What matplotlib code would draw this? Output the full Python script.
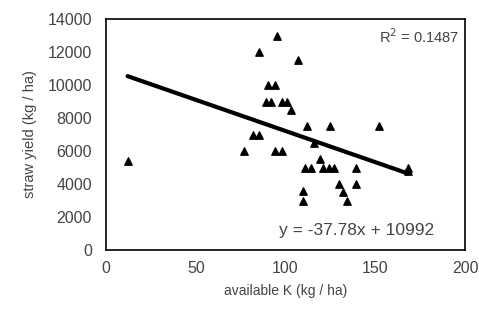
import numpy as np
import matplotlib
import matplotlib.pyplot as plt
matplotlib.use('Agg')

# available K (kg/ha) and straw yield (kg/ha)
avail_k = [12, 77, 82, 85, 85, 90, 94, 89, 92, 95, 94, 98, 98, 101, 103, 107,
           112, 125, 152, 116, 119, 111, 114, 121, 124, 127, 139, 139, 110, 110,
           130, 132, 134, 168, 168]
straw_yield = [5400, 6000, 7000, 7000, 12000, 10000, 10000, 9000, 9000, 13000,
               6000, 6000, 9000, 9000, 8500, 11500, 7500, 7500, 7500, 6500, 5500,
               5000, 5000, 5000, 5000, 5000, 5000, 4000, 3600, 3000, 4000, 3500,
               3000, 4800, 5000]

slope = -37.78
intercept = 10992
r_squared = 0.1487

x_ticks = [0, 50, 100, 150, 200]
y_ticks = [0, 2000, 4000, 6000, 8000, 10000, 12000, 14000]

plt.rcParams['font.family'] = ['Liberation Sans', 'DejaVu Sans']
txt_col = '#444444'

fig = plt.figure(figsize=(4.79, 3.29), dpi=100)
ax = fig.add_axes([0.2213, 0.2401, 0.7495, 0.7021])

ax.scatter(avail_k, straw_yield, marker='^', s=28, color='black', zorder=3)

# trendline over the data range
xs = np.array([min(avail_k), max(avail_k)])
ax.plot(xs, slope * xs + intercept, color='black', lw=3, solid_capstyle='round')

ax.set_xlim(0, 200)
ax.set_ylim(0, 14000)
ax.set_xticks(x_ticks)
ax.set_yticks(y_ticks)
ax.tick_params(length=0, labelsize=11.5, labelcolor=txt_col)
ax.tick_params(axis='y', pad=10)
ax.tick_params(axis='x', pad=8)

for sp in ax.spines.values():
    sp.set_linewidth(1.2)

ax.set_xlabel('available K (kg / ha)', fontsize=10, color=txt_col, labelpad=6)
ax.set_ylabel('straw yield (kg / ha)', fontsize=10.5, color=txt_col, labelpad=8)

ax.text(0.985, 0.925, 'R$^2$ = %.4f' % r_squared, transform=ax.transAxes,
        ha='right', va='center', fontsize=10.5, color=txt_col)
ax.text(0.915, 0.085, 'y = %.2fx + %d' % (slope, intercept), transform=ax.transAxes,
        ha='right', va='center', fontsize=12.5, color=txt_col)

fig.savefig('out.png', dpi=100)
